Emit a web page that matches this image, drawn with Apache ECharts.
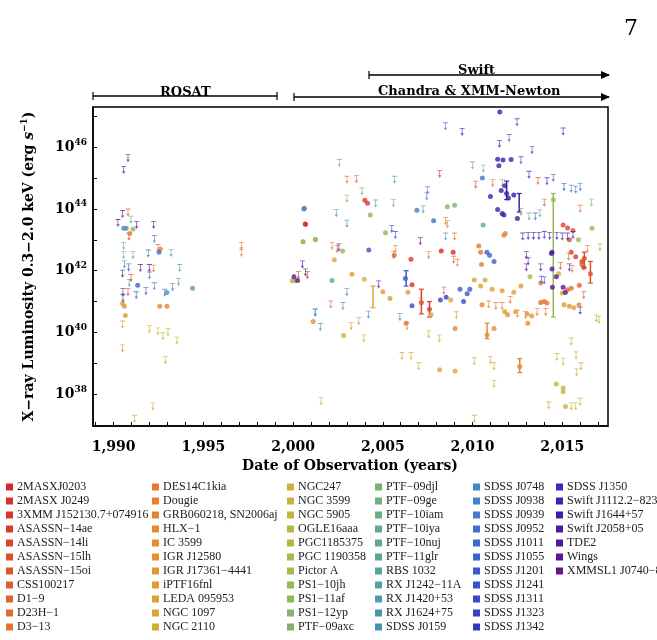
<!DOCTYPE html>
<html>
<head>
    <title>X-ray luminosity of TDE candidates</title>
    <script src="https://cdn.jsdelivr.net/npm/echarts/dist/echarts.min.js"></script>
    <style>body{margin:0;background:#fff}</style>
</head>
<body>
    <div id="main" style="width:657px;height:640px;"></div>
    <script type="text/javascript">
        // source names, in legend order (columns of 11)
        var names = ['2MASXJ0203', '2MASX J0249', '3XMM J152130.7+074916', 'ASASSN\u221214ae', 'ASASSN\u221214li',
            'ASASSN\u221215lh', 'ASASSN\u221215oi', 'CSS100217', 'D1\u22129', 'D23H\u22121', 'D3\u221213',
            'DES14C1kia', 'Dougie', 'GRB060218, SN2006aj', 'HLX\u22121', 'IC 3599', 'IGR J12580',
            'IGR J17361\u22124441', 'iPTF16fnl', 'LEDA 095953', 'NGC 1097', 'NGC 2110',
            'NGC247', 'NGC 3599', 'NGC 5905', 'OGLE16aaa', 'PGC1185375', 'PGC 1190358', 'Pictor A',
            'PS1\u221210jh', 'PS1\u221211af', 'PS1\u221212yp', 'PTF\u221209axc',
            'PTF\u221209djl', 'PTF\u221209ge', 'PTF\u221210iam', 'PTF\u221210iya', 'PTF\u221210nuj', 'PTF\u221211glr',
            'RBS 1032', 'RX J1242\u221211A', 'RX J1420+53', 'RX J1624+75', 'SDSS J0159',
            'SDSS J0748', 'SDSS J0938', 'SDSS J0939', 'SDSS J0952', 'SDSS J1011', 'SDSS J1055',
            'SDSS J1201', 'SDSS J1241', 'SDSS J1311', 'SDSS J1323', 'SDSS J1342',
            'SDSS J1350', 'Swift J1112.2\u22128238', 'Swift J1644+57', 'Swift J2058+05', 'TDE2', 'Wings',
            'XMMSL1 J0740\u221285'];

        // [year, log10 L, source index]
        var detections = [
            [1990.56,43.37,43],[1990.7,43.37,43],[1991.08,43.35,30],[1992.6,42.7,12],[1992.53,42.6,48],[1992.97,41.29,42],
            [1994.4,41.43,40],[1991.34,41.53,49],[1990.5,40.94,16],[1990.6,40.85,16],[1990.65,40.55,17],[1992.57,40.85,13],
            [1992.97,40.85,13],[1990.9,43.2,12],
            [2000.6,44.0,45],[2000.69,43.5,1],[2000.56,42.94,27],[2001.25,43.0,27],[2000.05,41.8,61],[2000.25,41.68,61],
            [1999.95,41.67,26],[2000.1,41.67,26],[2001.12,40.35,15],
            [2011.52,47.14,57],[2011.4,45.61,57],[2011.7,45.58,57],[2012.15,45.6,57],[2011.47,45.4,57],[2010.55,45.0,47],
            [2011.6,44.6,57],[2011.9,44.5,57],[2012.0,44.35,57],[2011.0,44.4,57],[2011.8,44.75,57],[2012.3,44.45,57],
            [2011.65,43.85,57],[2011.75,43.8,57],[2012.5,43.69,57],[2011.4,43.98,57],[2004.0,44.28,2],[2004.15,44.18,2],
            [2004.3,43.8,30],[2006.9,43.96,46],[2007.83,43.62,48],[2008.6,44.07,31],[2009.0,44.12,33],[2000.63,44.02,45],
            [2000.68,43.51,1],[2010.59,43.48,38],[2011.83,43.2,14],[2011.75,43.15,14],[2015.05,43.48,4],[2015.3,43.38,4],
            [2015.4,43.0,5],[2016.66,43.37,29],[2015.9,43.0,29],[2004.22,42.67,51],[2002.76,42.64,30],[2005.15,43.23,30],
            [2001.24,43.02,28],[2000.55,42.94,28],[2008.26,42.64,0],[2008.92,42.6,0],[2006.57,42.37,2],[2010.35,42.8,11],
            [2010.45,42.6,11],[2010.8,42.6,49],[2010.95,42.5,49],[2011.2,42.3,49],[2015.5,42.6,3],[2015.75,42.45,3],
            [2016.1,42.3,3],[2016.2,42.1,3],[2014.43,42.6,58],[2015.6,43.3,6],
            [2002.17,41.68,36],[2002.3,42.35,22],[2003.28,41.88,18],[2003.97,41.72,24],[2005.0,41.32,17],[2005.4,41.1,17],
            [2002.82,39.9,21],[2006.26,41.75,50],[2006.63,40.86,52],[2006.63,41.54,1],[2005.64,42.5,8],[2006.3,40.3,9],
            [2006.4,41.3,18],[2007.15,40.97,4],[2007.6,40.75,3],[2007.69,40.57,22],[2008.21,41.05,53],[2008.53,41.14,53],
            [2008.78,41.05,20],[2009.03,40.13,13],[2008.17,38.79,21],[2009.03,38.75,21],[2009.3,41.4,50],[2009.5,41.0,52],
            [2009.7,41.25,51],[2009.85,41.4,50],[2010.1,41.7,19],[2010.45,41.5,19],[2010.7,41.7,24],[2011.1,41.4,19],
            [2011.65,41.35,18],[2012.3,41.3,19],[2012.7,41.5,18],[2010.5,42.2,12],[2010.53,40.9,13],[2011.8,40.67,16],
            [2011.95,40.57,17],[2012.4,40.67,18],[2013.05,40.6,17],[2013.3,40.53,16],[2013.08,40.3,15],[2010.81,39.92,14],
            [2011.2,40.13,14],[2012.63,38.9,13],[2014.0,41.0,10],[2014.15,40.95,11],[2013.8,40.97,9],[2014.43,42.05,58],
            [2014.67,41.8,60],[2014.45,41.46,60],[2015.17,41.29,59],[2015.05,41.46,59],[2014.4,42.56,58],[2015.0,41.28,19],
            [2015.1,40.9,16],[2015.4,40.85,17],[2015.65,40.8,18],[2015.93,40.9,15],[2015.95,41.53,8],[2015.5,41.43,9],
            [2015.3,41.38,10],[2016.57,41.9,6],[2016.23,42.4,5],[2016.1,42.2,7],[2014.67,38.33,22],[2015.05,38.2,23],
            [2015.05,38.08,23],[2015.18,37.6,23],[2013.2,41.8,27],[2014.8,41.9,25],[2013.8,41.6,12],[2014.5,44.3,29]
        ];

        // [year, log10 L upper limit, source index]
        var upperLimits = [
            [1990.8,45.74,60],[1990.56,45.36,59],[1990.24,43.64,57],[1990.5,43.93,55],[1990.8,43.98,7],[1990.97,43.75,36],
            [1991.28,43.58,58],[1990.85,43.2,3],[1992.23,43.58,56],[1992.27,43.12,44],[1992.47,42.83,9],[1991.93,42.65,48],
            [1993.2,42.67,38],[1993.68,42.18,39],[1993.62,41.73,38],[1993.29,41.56,47],[1992.85,41.38,46],[1991.26,41.3,50],
            [1991.8,41.43,51],[1992.27,41.59,45],[1991.49,42.18,60],[1991.99,42.18,59],[1992.0,41.94,47],[1992.23,42.16,11],
            [1990.5,42.0,61],[1990.84,42.2,52],[1990.56,42.6,32],[1991.08,42.6,35],[1990.97,41.86,2],[1990.8,41.4,5],
            [1990.52,41.4,59],[1990.52,41.2,55],[1990.87,41.7,41],[1990.6,42.3,44],[1990.55,42.9,34],[1990.5,40.35,18],
            [1990.5,39.58,15],[1991.99,40.2,21],[1992.47,40.13,22],[1992.75,39.97,23],[1993.03,40.1,24],[1993.53,39.83,23],
            [1992.88,39.2,21],[1992.19,37.7,19],[1991.17,37.3,20],[1997.12,42.9,10],[1997.12,42.67,12],
            [2000.52,42.3,58],[2000.69,42.04,56],[2001.23,40.75,44],[2001.52,40.27,43],[2001.56,37.87,20],[2000.8,41.95,0],
            [2008.49,46.77,48],[2009.42,46.59,56],[2012.48,46.9,54],[2015.05,46.6,55],[2012.04,46.39,49],[2011.5,46.2,56],
            [2013.32,46.0,53],[2002.58,45.58,31],[2012.7,45.67,52],[2010.0,45.5,33],[2010.6,45.4,34],[2008.17,45.23,2],
            [2010.18,44.88,4],[2011.13,44.93,9],[2011.67,44.93,32],[2003.0,45.04,11],[2003.53,45.06,8],[2005.66,45.04,39],
            [2013.15,45.2,57],[2014.15,44.99,56],[2014.5,45.1,50],[2013.65,45.0,7],[2015.1,44.8,51],[2015.5,44.75,45],
            [2015.75,44.72,46],[2016.0,44.8,47],[2003.84,44.66,31],[2003.0,44.43,30],[2007.5,44.7,46],[2007.45,44.5,45],
            [2004.6,44.27,40],[2005.6,44.28,33],[2007.25,44.08,41],[2002.41,43.96,42],[2003.0,43.62,43],[2005.5,43.45,53],
            [2005.7,43.25,52],[2008.5,43.7,10],[2008.6,43.6,12],[2008.5,43.2,41],[2009.0,43.2,9],[2012.7,44.0,36],
            [2013.15,43.85,37],[2013.5,43.85,48],[2013.75,43.95,35],[2014.0,44.3,8],[2016.63,44.3,29],[2016.0,44.1,10],
            [2002.17,42.9,11],[2002.45,42.8,7],[2002.55,42.85,59],[2005.6,42.6,9],[2005.7,42.8,13],[2007.09,43.05,58],
            [2007.56,42.6,10],[2008.95,42.45,8],[2009.15,42.35,11],[2013.0,42.6,59],[2013.1,42.4,60],[2012.8,43.2,56],
            [2013.1,43.22,57],[2013.4,43.22,58],[2013.7,43.22,59],[2014.0,43.25,55],[2014.3,43.22,56],[2014.7,43.22,57],
            [2015.0,43.2,60],[2015.3,43.2,58],[2015.6,43.25,59],[2015.35,42.55,9],[2016.4,42.8,11],[2017.1,42.85,28],
            [2014.9,42.25,5],[2015.55,42.15,12],
            [2000.3,41.95,2],[2003.0,41.4,44],[2002.1,41.0,10],[2002.78,40.95,42],[2001.24,40.73,43],[2004.77,41.65,60],
            [2003.23,40.3,14],[2003.66,40.46,15],[2003.94,39.9,21],[2004.2,40.67,43],[2005.95,40.6,42],[2006.35,40.3,14],
            [2007.1,41.1,12],[2007.56,40.03,22],[2008.15,39.9,21],[2006.07,39.33,22],[2006.57,39.33,23],[2007.0,39.0,21],
            [2010.1,39.16,22],[2010.1,37.3,20],[2011.0,39.2,23],[2011.2,39.0,21],[2011.2,38.43,22],[2010.9,41.0,12],
            [2011.3,40.95,10],[2011.65,40.95,11],[2012.1,41.15,9],[2012.5,40.7,12],[2012.95,40.65,13],[2013.6,40.75,10],
            [2014.08,40.75,9],[2013.84,41.8,49],[2014.0,41.78,50],[2013.0,42.2,60],[2013.8,42.2,58],[2015.4,42.2,57],
            [2016.2,41.3,7],[2016.9,40.55,21],[2017.05,40.5,22],[2015.5,39.8,23],[2015.77,39.35,22],[2015.8,38.8,21],
            [2016.05,39.0,20],[2015.05,39.15,23],[2014.7,39.3,24],[2014.25,37.73,20],[2015.5,37.7,21],[2015.75,37.7,22],
            [2016.0,37.85,23],[2009.1,40.65,20],[2008.4,41.45,7],[2016.0,40.8,59]
        ];

        // [year, low, high, source index]
        var errorBars = [
            [2014.5,40.5,44.5,29],[2004.45,40.8,41.5,20],[2007.15,40.6,41.4,4],[2007.6,40.5,41.0,3],
            [2012.63,38.7,39.15,13],[2016.57,41.6,42.3,6],[2006.3,41.5,42.0,50],[2010.81,39.8,40.3,14],
            [2011.9,44.3,44.9,57],[2012.6,43.9,44.5,57],[2016.23,42.1,42.6,5]
        ];

        var yearTicks = [1990, 1995, 2000, 2005, 2010, 2015];
        var decadeTicks = [38, 40, 42, 44, 46];

        // rainbow palette from red to purple
        var stops = [[0, [214, 40, 40]], [0.18, [230, 120, 50]], [0.3, [222, 160, 50]], [0.38, [200, 180, 60]],
            [0.46, [160, 185, 80]], [0.55, [110, 178, 120]], [0.66, [80, 160, 165]], [0.74, [70, 130, 200]],
            [0.86, [55, 70, 200]], [0.93, [60, 30, 170]], [1, [100, 20, 140]]];
        function colorAt(t) {
            for (var i = 1; i < stops.length; i++) {
                if (t <= stops[i][0]) {
                    var a = stops[i - 1], b = stops[i], f = (t - a[0]) / (b[0] - a[0]);
                    var c = a[1].map(function (v, k) { return Math.round(v + (b[1][k] - v) * f); });
                    return 'rgb(' + c.join(',') + ')';
                }
            }
            return 'rgb(100,20,140)';
        }
        var colors = names.map(function (n, i) { return colorAt(i / (names.length - 1)); });

        var limitSymbol = 'path://M0,0H10V1.6H5.8V10H8.5L5,15L1.5,10H4.2V1.6H0Z';
        var serif = '"DejaVu Serif", "Liberation Serif", serif';

        var series = [];
        names.forEach(function (n, i) {
            series.push({
                name: n, type: 'scatter', symbol: 'circle', symbolSize: 5,
                itemStyle: { color: colors[i] },
                data: detections.filter(function (d) { return d[2] === i; }).map(function (d) { return [d[0], d[1]]; })
            });
            series.push({
                name: n, type: 'scatter', symbol: limitSymbol, symbolSize: [5, 8], symbolOffset: [0, 3],
                itemStyle: { color: colors[i], opacity: 0.75 },
                data: upperLimits.filter(function (d) { return d[2] === i; }).map(function (d) { return [d[0], d[1]]; })
            });
        });
        series.push({
            type: 'custom', silent: true,
            data: errorBars,
            renderItem: function (params, api) {
                var lo = api.coord([api.value(0), api.value(1)]);
                var hi = api.coord([api.value(0), api.value(2)]);
                var c = colors[api.value(3)];
                return { type: 'group', children: [
                    { type: 'line', shape: { x1: lo[0], y1: lo[1], x2: hi[0], y2: hi[1] }, style: { stroke: c, lineWidth: 1.5 } },
                    { type: 'line', shape: { x1: lo[0] - 2.5, y1: lo[1], x2: lo[0] + 2.5, y2: lo[1] }, style: { stroke: c, lineWidth: 1.2 } },
                    { type: 'line', shape: { x1: hi[0] - 2.5, y1: hi[1], x2: hi[0] + 2.5, y2: hi[1] }, style: { stroke: c, lineWidth: 1.2 } }
                ] };
            }
        });

        // legend drawn as a block of swatches and labels, 11 per column
        var legendTop = 487, rowStep = 14, legendCols = [6, 152, 287, 375, 473, 556];
        var legendEls = [];
        names.forEach(function (n, i) {
            var c = Math.floor(i / 11), r = i % 11;
            var x = legendCols[c], y = legendTop + r * rowStep;
            legendEls.push({ type: 'rect', shape: { x: x, y: y - 3.5, width: 7, height: 7 }, style: { fill: colors[i] } });
            legendEls.push({ type: 'text', x: x + 11, y: y, style: { text: n, font: '12px "Liberation Serif", serif', fill: '#222', verticalAlign: 'middle' } });
        });

        function hBar(x1, x2, y, capLeft, capRight, arrow) {
            var els = [{ type: 'line', shape: { x1: x1, y1: y, x2: x2, y2: y }, style: { stroke: '#000', lineWidth: 1.5 } }];
            if (capLeft) els.push({ type: 'line', shape: { x1: x1, y1: y - 4, x2: x1, y2: y + 4 }, style: { stroke: '#000', lineWidth: 1.2 } });
            if (capRight) els.push({ type: 'line', shape: { x1: x2, y1: y - 4, x2: x2, y2: y + 4 }, style: { stroke: '#000', lineWidth: 1.2 } });
            if (arrow) els.push({ type: 'polygon', shape: { points: [[x2 - 8, y - 4], [x2 + 1, y], [x2 - 8, y + 4]] }, style: { fill: '#000' } });
            return els;
        }
        var titleFont = 'bold 13px ' + serif;
        var graphics = [].concat(
            hBar(93, 277, 96, true, true, false),
            hBar(294, 609, 97, true, false, true),
            hBar(369, 609, 75, true, false, true),
            [
                { type: 'text', left: 160, top: 79, style: { text: 'ROSAT', font: titleFont, fill: '#000' } },
                { type: 'text', left: 458, top: 57, style: { text: 'Swift', font: titleFont, fill: '#000' } },
                { type: 'text', left: 378, top: 78, style: { text: 'Chandra & XMM-Newton', font: titleFont, fill: '#000' } },
                { type: 'text', left: 624, top: 8, style: { text: '7', font: '22px ' + serif, fill: '#000' } },
                { type: 'text', x: 350, y: 466, style: { text: 'Date of Observation (years)', font: 'bold 14px ' + serif, fill: '#000', align: 'center', verticalAlign: 'middle' } }
            ],
            legendEls
        );

        var myChart = echarts.init(document.getElementById('main'));
        var option = {
            animation: false,
            grid: { left: 93, top: 107, width: 515, height: 319, show: true, borderColor: '#000', borderWidth: 1.5 },
            xAxis: {
                type: 'value', min: 1988.85, max: 2017.55,
                splitLine: { show: false },
                axisLine: { lineStyle: { color: '#000', width: 1.5 } },
                axisTick: { inside: true, length: 4, customValues: [1989,1990,1991,1992,1993,1994,1995,1996,1997,1998,1999,2000,2001,2002,2003,2004,2005,2006,2007,2008,2009,2010,2011,2012,2013,2014,2015,2016,2017], lineStyle: { color: '#000' } },
                axisLabel: { customValues: yearTicks, color: '#000', fontFamily: serif, fontWeight: 'bold', fontSize: 14, margin: 7 }
            },
            yAxis: {
                type: 'value', min: 36.97, max: 47.3,
                splitLine: { show: false },
                axisLine: { lineStyle: { color: '#000', width: 1.5 } },
                axisTick: { inside: true, length: 4, customValues: [37,38,39,40,41,42,43,44,45,46,47], lineStyle: { color: '#000' } },
                axisLabel: {
                    customValues: decadeTicks, margin: 6,
                    formatter: function (v) { return '{b|10}{s|' + v + '}'; },
                    rich: {
                        b: { fontFamily: serif, fontWeight: 'bold', fontSize: 14, color: '#000' },
                        s: { fontFamily: serif, fontWeight: 'bold', fontSize: 9, color: '#000', verticalAlign: 'bottom', padding: [0, 0, 10, 0] }
                    }
                },
                name: '{t|X\u2212ray Luminosity 0.3\u22122.0 keV (erg }{i|s}{u|\u22121}{t|)}', nameLocation: 'middle', nameGap: 42,
                nameTextStyle: {
                    rich: {
                        t: { fontFamily: serif, fontWeight: 'bold', fontSize: 14, color: '#000' },
                        i: { fontFamily: serif, fontWeight: 'bold', fontStyle: 'italic', fontSize: 14, color: '#000' },
                        u: { fontFamily: serif, fontWeight: 'bold', fontSize: 9, color: '#000', padding: [0, 0, 9, 0] }
                    }
                }
            },
            graphic: graphics,
            series: series
        };
        myChart.setOption(option);
    </script>
</body>
</html>
